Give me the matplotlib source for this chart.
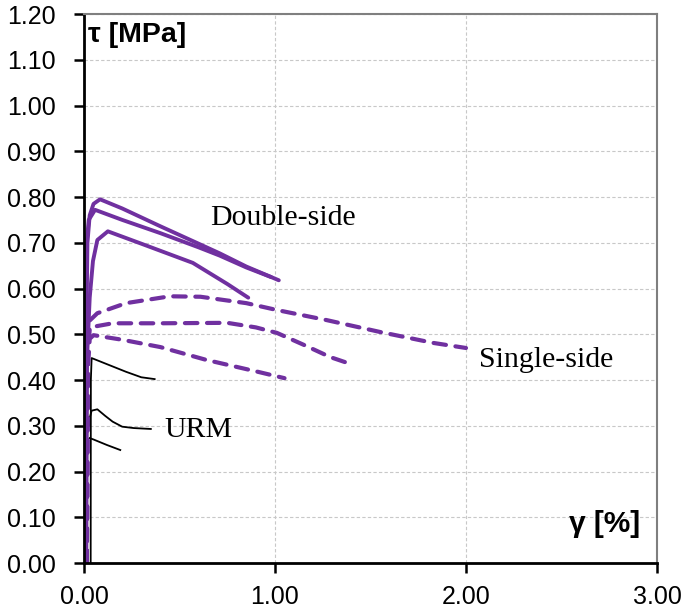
import matplotlib.pyplot as plt
import numpy as np

purple = '#7030A0'

# double-side (solid purple)
ds_a_x = [0.010, 0.012, 0.018, 0.030, 0.050, 0.084, 0.20, 0.40, 0.60, 0.71, 0.85, 1.02]
ds_a_y = [0.000, 0.500, 0.700, 0.760, 0.785, 0.795, 0.775, 0.736, 0.698, 0.677, 0.648, 0.618]
ds_b_x = [0.008, 0.010, 0.014, 0.025, 0.058, 0.20, 0.40, 0.60, 0.71, 0.85, 0.98]
ds_b_y = [0.000, 0.500, 0.700, 0.750, 0.772, 0.750, 0.721, 0.690, 0.672, 0.646, 0.625]
ds_c_x = [0.012, 0.016, 0.030, 0.047, 0.070, 0.125, 0.30, 0.57, 0.75, 0.86]
ds_c_y = [0.000, 0.450, 0.580, 0.660, 0.706, 0.725, 0.698, 0.656, 0.610, 0.580]

# single-side (dashed purple)
ss_d_x = [0.015, 0.020, 0.030, 0.070, 0.22, 0.45, 0.61, 0.85, 1.01, 1.27, 1.55, 1.83, 2.00]
ss_d_y = [0.000, 0.450, 0.530, 0.546, 0.568, 0.583, 0.582, 0.568, 0.553, 0.531, 0.505, 0.481, 0.470]
ss_e_x = [0.015, 0.020, 0.030, 0.150, 0.40, 0.75, 0.90, 1.01, 1.15, 1.29, 1.41]
ss_e_y = [0.000, 0.450, 0.515, 0.524, 0.524, 0.525, 0.515, 0.503, 0.477, 0.450, 0.433]
ss_f_x = [0.015, 0.020, 0.030, 0.050, 0.20, 0.40, 0.64, 0.91, 1.05]
ss_f_y = [0.000, 0.420, 0.490, 0.498, 0.488, 0.472, 0.444, 0.418, 0.404]

# URM (black)
urm_g_x = [0.035, 0.036, 0.040, 0.22, 0.30, 0.37]
urm_g_y = [0.000, 0.400, 0.448, 0.418, 0.406, 0.402]
urm_h_x = [0.030, 0.032, 0.040, 0.070, 0.110, 0.150, 0.200, 0.26, 0.35]
urm_h_y = [0.300, 0.320, 0.333, 0.336, 0.322, 0.309, 0.298, 0.295, 0.293]
urm_i_x = [0.030, 0.050, 0.120, 0.190]
urm_i_y = [0.273, 0.270, 0.258, 0.247]
urm_dash_x = [0.008, 0.009, 0.010]
urm_dash_y = [0.000, 0.150, 0.300]

fig = plt.figure(figsize=(6.85, 6.09), dpi=100)
ax = fig.add_axes([0.1226, 0.0755, 0.8365, 0.9015])

ax.set_xlim(0, 3)
ax.set_ylim(0, 1.2)
ax.set_xticks(np.arange(0, 3.01, 1.0))
ax.set_yticks(np.arange(0, 1.201, 0.1))
ax.set_xticklabels([f'{v:.2f}' for v in np.arange(0, 3.01, 1.0)])
ax.set_yticklabels([f'{v:.2f}' for v in np.arange(0, 1.201, 0.1)])
ax.grid(True, color='#c8c8c8', linestyle=(0, (3, 2)), linewidth=0.8)
ax.set_axisbelow(True)

for s in ['left', 'bottom']:
    ax.spines[s].set_linewidth(2.0)
    ax.spines[s].set_color('black')
for s in ['top', 'right']:
    ax.spines[s].set_linewidth(1.5)
    ax.spines[s].set_color('#7f7f7f')
ax.tick_params(direction='out', length=7, width=1.8, labelsize=18,
               top=False, right=False)
ax.tick_params(axis='y', pad=13)
ax.tick_params(axis='x', pad=9)
for lab in ax.get_xticklabels() + ax.get_yticklabels():
    lab.set_fontfamily('Liberation Sans')

# URM
ax.plot(urm_dash_x, urm_dash_y, color='black', lw=1.3, linestyle=(0, (6, 4)))
for xs, ys in [(urm_g_x, urm_g_y), (urm_h_x, urm_h_y), (urm_i_x, urm_i_y)]:
    ax.plot(xs, ys, color='black', lw=1.3)

# single-side
for xs, ys in [(ss_d_x, ss_d_y), (ss_e_x, ss_e_y), (ss_f_x, ss_f_y)]:
    ax.plot(xs, ys, color=purple, lw=3.0, linestyle=(0, (3, 2.3)),
            dash_capstyle='round')

# double-side
for xs, ys in [(ds_a_x, ds_a_y), (ds_b_x, ds_b_y), (ds_c_x, ds_c_y)]:
    ax.plot(xs, ys, color=purple, lw=2.8, solid_capstyle='round')

ax.text(1.04, 0.755, 'Double-side', fontsize=21.5, family='Liberation Serif',
        ha='center', va='center')
ax.text(2.42, 0.444, 'Single-side', fontsize=21.5, family='Liberation Serif',
        ha='center', va='center')
ax.text(0.60, 0.29, 'URM', fontsize=21.5, family='Liberation Serif',
        ha='center', va='center')

ax.text(0.02, 1.155, 'τ [MPa]', fontsize=20.5, fontweight='bold',
        family='Liberation Sans', ha='left', va='center')
ax.text(2.91, 0.085, 'γ [%]', fontsize=21.5, fontweight='bold',
        family='Liberation Sans', ha='right', va='center')

fig.savefig('out.png', dpi=100)
